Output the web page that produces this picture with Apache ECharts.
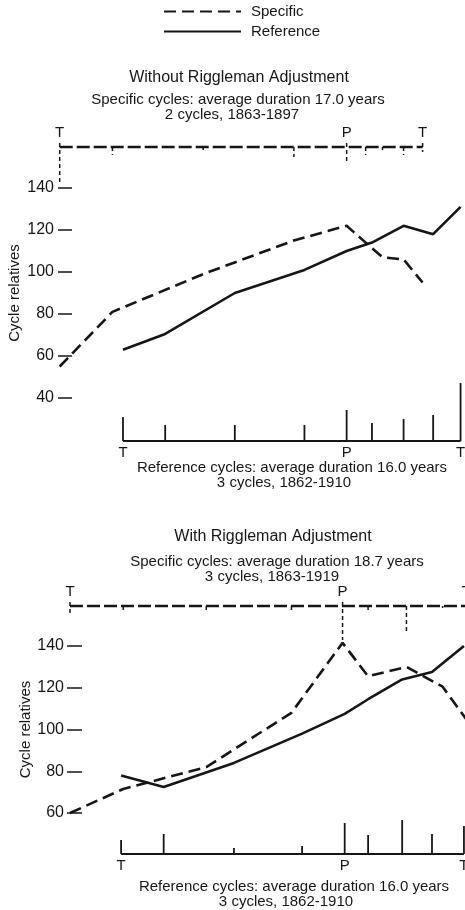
<!DOCTYPE html>
<html>
<head>
<meta charset="utf-8">
<title>Cycle relatives with and without Riggleman adjustment</title>
<script src="https://cdn.jsdelivr.net/npm/echarts@6.0.0/dist/echarts.min.js"></script>
<style>
  html, body { margin: 0; padding: 0; background: #fff; }
  #chart { width: 465px; height: 910px; }
</style>
</head>
<body>
<div id="chart"></div>
<script>
// stage letters under / over the cycle timelines (stages I..IX)
const stageLabels = ['T', '', '', '', 'P', '', '', '', 'T']
const yTicks1 = [40, 60, 80, 100, 120, 140]
const yTicks2 = [60, 80, 100, 120, 140]

// Without Riggleman adjustment (x = years from reference trough)
const specYears1 = [-3.0, -0.5, 3.8, 8.1, 10.6, 11.5, 12.3, 13.3, 14.2]
const specValues1 = [55, 81, 99, 115, 122, 114, 107, 106, 95]
const specMarks1 = [38, 8, 3, 10, 15, 8, 3, 8, 5]
const refYears1 = [0, 2.0, 5.3, 8.6, 10.6, 11.8, 13.3, 14.7, 16.0]
const refValues1 = [63, 70.5, 90, 101, 110, 114, 122, 118, 131]
const refMarks1 = [24, 16, 16, 16, 31, 18, 22, 26, 58]

// With Riggleman adjustment
const specYears2 = [-2.4, 0.1, 4.0, 8.0, 10.4, 11.6, 13.4, 15.1, 16.2]
const specValues2 = [60, 71.5, 82, 108, 141.5, 125.5, 130, 120.5, 105]
const specMarks2 = [9, 6, 7, 7, 34, 4, 26, 2, 0]
const refYears2 = [0, 2.0, 5.3, 8.5, 10.5, 11.6, 13.2, 14.6, 16.1]
const refValues2 = [78, 72.5, 84, 98, 107.5, 114.5, 124, 127.5, 140]
const refMarks2 = [14, 20, 6, 8, 31, 19, 34, 20, 28]

const texts = [
  // text, x, y, size
  ['Without Riggleman Adjustment', 239, 78, 16],
  ['Specific cycles: average duration 17.0 years', 238, 100, 15],
  ['2 cycles, 1863-1897', 232, 115, 15],
  ['Reference cycles: average duration 16.0 years', 292, 468, 15],
  ['3 cycles, 1862-1910', 284, 483, 15],
  ['With Riggleman Adjustment', 273, 537, 16],
  ['Specific cycles: average duration 18.7 years', 277, 562, 15],
  ['3 cycles, 1863-1919', 272, 577, 15],
  ['Reference cycles: average duration 16.0 years', 294, 887, 15],
  ['3 cycles, 1862-1910', 286, 902, 15]
]

const FONT = '"Liberation Sans", Arial, Helvetica, sans-serif'
const INK = '#161616'

const panels = [
  {
    specX: specYears1, specY: specValues1, specM: specMarks1,
    refX: refYears1, refY: refValues1, refM: refMarks1, ticks: yTicks1,
    left: 58, xMin: -3.08, xMax: 16.21,
    topLine: 147, plotTop: 188, plotH: 210, baseLine: 441,
    tickLen: 14, labelMargin: 4, nameGap: 36
  },
  {
    specX: specYears2, specY: specValues2, specM: specMarks2,
    refX: refYears2, refY: refValues2, refM: refMarks2, ticks: yTicks2,
    left: 67, xMin: -2.54, xMax: 16.15,
    topLine: 606, plotTop: 646, plotH: 167, baseLine: 854,
    tickLen: 15, labelMargin: 3, nameGap: 34
  }
]

const zip = (xs, ys) => xs.map((x, i) => [x, ys[i]])

// vertical stage marks on a timeline, with T / P letters
const markRender = (dash, width, labelDy, upExtra) => (params, api) => {
  const x = api.value(0)
  const len = api.value(1)
  const lab = stageLabels[params.dataIndex]
  const p0 = api.coord([x, lab ? upExtra : 0])
  const p1 = api.coord([x, len])
  const base = api.coord([x, 0])
  const children = [{
    type: 'line',
    shape: { x1: p0[0], y1: p0[1], x2: p1[0], y2: p1[1] },
    style: { stroke: INK, lineWidth: width, lineDash: dash }
  }]
  if (lab) {
    children.push({
      type: 'text',
      x: base[0],
      y: base[1] + labelDy,
      style: { text: lab, fill: INK, font: '15px ' + FONT, align: 'center', verticalAlign: 'middle' }
    })
  }
  return { type: 'group', children }
}

const grid = []
const xAxis = []
const yAxis = []
const series = []

panels.forEach((p, i) => {
  const g0 = i * 3
  const hiddenX = { type: 'value', min: p.xMin, max: p.xMax, show: false }
  const box = { left: p.left, right: 0, outerBoundsMode: 'none', containLabel: false }

  // top timeline (specific cycle)
  grid.push({ ...box, top: p.topLine - 20, height: 60 })
  xAxis.push({ ...hiddenX, gridIndex: g0 })
  yAxis.push({ type: 'value', gridIndex: g0, min: -40, max: 20, show: false })

  // main plot
  grid.push({ ...box, top: p.plotTop, height: p.plotH })
  xAxis.push({ ...hiddenX, gridIndex: g0 + 1 })
  yAxis.push({
    type: 'value',
    gridIndex: g0 + 1,
    min: p.ticks[0],
    max: p.ticks[p.ticks.length - 1],
    interval: p.ticks[1] - p.ticks[0],
    axisLine: { show: false, onZero: false },
    axisTick: { show: true, inside: true, length: p.tickLen, lineStyle: { color: INK, width: 1.5 } },
    axisLabel: { color: INK, fontSize: 16, fontFamily: FONT, margin: p.labelMargin },
    splitLine: { show: false },
    name: 'Cycle relatives',
    nameLocation: 'middle',
    nameGap: p.nameGap,
    nameMoveOverlap: false,
    nameTextStyle: { color: INK, fontSize: 15, fontFamily: FONT }
  })

  // bottom timeline (reference cycle)
  grid.push({ ...box, top: p.baseLine - 60, height: 80 })
  xAxis.push({ ...hiddenX, gridIndex: g0 + 2 })
  yAxis.push({ type: 'value', gridIndex: g0 + 2, min: -20, max: 60, show: false })

  series.push(
    {
      type: 'line',
      xAxisIndex: g0, yAxisIndex: g0,
      data: p.specX.map(x => [x, 0]),
      symbol: 'none', silent: true, clip: false,
      lineStyle: { color: INK, width: 2.3, type: [13, 4] }
    },
    {
      type: 'custom',
      xAxisIndex: g0, yAxisIndex: g0,
      data: zip(p.specX, p.specM.map(v => -v)),
      renderItem: markRender([4, 3], 1.5, -14, 4),
      silent: true
    },
    {
      name: 'Specific',
      type: 'line',
      xAxisIndex: g0 + 1, yAxisIndex: g0 + 1,
      data: zip(p.specX, p.specY),
      symbol: 'none', clip: false,
      lineStyle: { color: INK, width: 2.6, type: [12, 6] }
    },
    {
      name: 'Reference',
      type: 'line',
      xAxisIndex: g0 + 1, yAxisIndex: g0 + 1,
      data: zip(p.refX, p.refY),
      symbol: 'none', clip: false,
      lineStyle: { color: INK, width: 2.6 }
    },
    {
      type: 'line',
      xAxisIndex: g0 + 2, yAxisIndex: g0 + 2,
      data: p.refX.map(x => [x, 0]),
      symbol: 'none', silent: true, clip: false,
      lineStyle: { color: INK, width: 1.8 }
    },
    {
      type: 'custom',
      xAxisIndex: g0 + 2, yAxisIndex: g0 + 2,
      data: zip(p.refX, p.refM),
      renderItem: markRender(null, 1.8, 12, 0),
      silent: true
    }
  )
})

const chart = echarts.init(document.getElementById('chart'))

chart.setOption({
  animation: false,
  backgroundColor: '#fff',
  color: [INK, INK],
  legend: {
    data: ['Specific', 'Reference'],
    orient: 'vertical',
    left: 163,
    top: 4,
    padding: 0,
    itemWidth: 77,
    itemHeight: 14,
    itemGap: 5,
    selectedMode: false,
    itemStyle: { opacity: 0 },
    textStyle: { color: INK, fontSize: 15, fontFamily: FONT, padding: [0, 0, 0, 5] }
  },
  graphic: texts.map(([text, x, y, size]) => ({
    type: 'text',
    x, y,
    silent: true,
    style: { text, fill: INK, font: size + 'px ' + FONT, align: 'center', verticalAlign: 'middle' }
  })),
  grid,
  xAxis,
  yAxis,
  series
})

window.addEventListener('resize', () => chart.resize())
</script>
</body>
</html>
